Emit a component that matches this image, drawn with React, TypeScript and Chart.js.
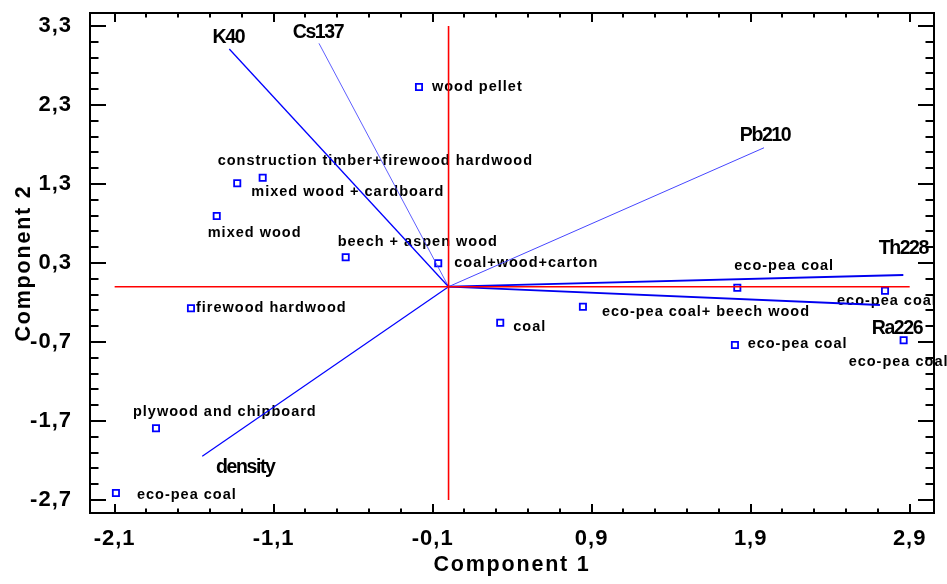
import React, { useEffect, useRef } from 'react';
import { Chart, registerables } from 'chart.js';

Chart.register(...registerables);

// ---------- data ----------
const xTicks = [-2.1, -1.1, -0.1, 0.9, 1.9, 2.9];
const yTicks = [-2.7, -1.7, -0.7, 0.3, 1.3, 2.3, 3.3];
const X_MIN = -2.255;
const X_MAX = 3.053;
const Y_MIN = -2.865;
const Y_MAX = 3.465;

const sampleNames = [
  'wood pellet',
  'construction timber+firewood hardwood',
  'mixed wood + cardboard',
  'mixed wood',
  'beech + aspen wood',
  'coal+wood+carton',
  'firewood hardwood',
  'coal',
  'eco-pea coal+ beech wood',
  'eco-pea coal',
  'eco-pea coal',
  'eco-pea coal',
  'eco-pea coal',
  'plywood and chipboard',
  'eco-pea coal',
];
const comp1 = [-0.186, -1.169, -1.329, -1.458, -0.647, -0.065, -1.62, 0.325, 0.845, 1.816, 2.745, 1.801, 2.862, -1.84, -2.092];
const comp2 = [2.528, 1.38, 1.309, 0.895, 0.372, 0.296, -0.273, -0.456, -0.253, -0.013, -0.051, -0.738, -0.678, -1.792, -2.611];
// label placement relative to marker (px)
const sampleLabelDx = [13, -45, 14, -9, -8, 16, 5, 13, 19, -3, -48, 12.7, -55, -23, 21];
const sampleLabelDy = [0, -17, 8.5, 17, -15.6, 0, 0, 4.6, 5, -21.7, 10, -1, 21.4, -16, 2];

const varNames = ['K40', 'Cs137', 'Pb210', 'Th228', 'Ra226', 'density'];
const varComp1 = [-1.379, -0.815, 1.984, 2.86, 2.713, -1.549];
const varComp2 = [3.009, 3.081, 1.759, 0.148, -0.232, -2.147];
const varLabelDx = [-1, -1, 1, 0, 17, 43];
const varLabelDy = [-6.5, -5, -7, -20.7, 29, 17];
const varColors = ['#0000ff', '#4d4dff', '#4646ff', '#0000f0', '#0000f0', '#0000ff'];
const varWidths = [1.3, 0.9, 1.0, 1.8, 1.8, 1.2];

const fmt = (v: number) => v.toFixed(1).replace('.', ',');

const SANS = '"Liberation Sans", Arial, sans-serif';

export default function App() {
  const ref = useRef<HTMLCanvasElement | null>(null);

  useEffect(() => {
    const canvas = ref.current;
    if (!canvas) return;

    const decor = {
      id: 'decor',
      beforeDraw(chart: any) {
        (chart.ctx as any).letterSpacing = '1px';
      },
      beforeDatasetsDraw(chart: any) {
        const ctx = chart.ctx as any;
        ctx.letterSpacing = '0px';
        const xs = chart.scales.x;
        const ys = chart.scales.y;
        ctx.save();
        ctx.font = `bold 14.5px ${SANS}`;
        ctx.letterSpacing = '1px';
        ctx.fillStyle = '#000';
        ctx.textAlign = 'left';
        ctx.textBaseline = 'middle';
        sampleNames.forEach((n, i) => {
          const px = xs.getPixelForValue(comp1[i]);
          const py = ys.getPixelForValue(comp2[i]);
          ctx.fillText(n, px + sampleLabelDx[i], py + sampleLabelDy[i]);
        });
        ctx.font = `bold 19.5px ${SANS}`;
        ctx.letterSpacing = '-1.4px';
        ctx.textAlign = 'center';
        ctx.textBaseline = 'alphabetic';
        varNames.forEach((n, i) => {
          const px = xs.getPixelForValue(varComp1[i]);
          const py = ys.getPixelForValue(varComp2[i]);
          ctx.fillText(n, px + varLabelDx[i], py + varLabelDy[i]);
        });
        ctx.restore();
      },
      afterDraw(chart: any) {
        const ctx = chart.ctx as any;
        const { left, right, top, bottom } = chart.chartArea;
        const xs = chart.scales.x;
        const ys = chart.scales.y;
        ctx.save();
        ctx.letterSpacing = '0px';
        ctx.strokeStyle = '#000';
        ctx.lineWidth = 2;
        ctx.strokeRect(left, top, right - left, bottom - top);
        ctx.beginPath();
        for (let k = 0; k <= 25; k++) {
          const v = xTicks[0] + k * 0.2;
          const major = k % 5 === 0;
          const len = major ? 9 : 4.5;
          const p = Math.round(xs.getPixelForValue(v));
          ctx.moveTo(p, bottom);
          ctx.lineTo(p, bottom - len);
          ctx.moveTo(p, top);
          ctx.lineTo(p, top + len);
        }
        for (let k = 0; k <= 30; k++) {
          const v = yTicks[0] + k * 0.2;
          const major = k % 5 === 0;
          const len = major ? 16 : 8.5;
          const p = Math.round(ys.getPixelForValue(v));
          ctx.moveTo(left, p);
          ctx.lineTo(left + len, p);
          ctx.moveTo(right, p);
          ctx.lineTo(right - len, p);
        }
        ctx.stroke();
        ctx.fillStyle = '#000';
        ctx.font = `bold 21.5px ${SANS}`;
        ctx.letterSpacing = '1.8px';
        ctx.textAlign = 'center';
        ctx.textBaseline = 'alphabetic';
        ctx.fillText('Component 1', (left + right) / 2, 571);
        ctx.translate(30, (top + bottom) / 2);
        ctx.rotate(-Math.PI / 2);
        ctx.fillText('Component 2', 0, 0);
        ctx.restore();
      },
    };

    const datasets: any[] = [
      {
        data: [{ x: xTicks[0], y: 0 }, { x: xTicks[xTicks.length - 1], y: 0 }],
        showLine: true,
        borderColor: '#ff0000',
        borderWidth: 1.6,
        pointRadius: 0,
      },
      {
        data: [{ x: 0, y: yTicks[0] }, { x: 0, y: yTicks[yTicks.length - 1] }],
        showLine: true,
        borderColor: '#ff0000',
        borderWidth: 1.6,
        pointRadius: 0,
      },
    ];
    varNames.forEach((n, i) => {
      datasets.push({
        label: n,
        data: [{ x: 0, y: 0 }, { x: varComp1[i], y: varComp2[i] }],
        showLine: true,
        borderColor: varColors[i],
        borderWidth: varWidths[i],
        pointRadius: 0,
      });
    });
    datasets.push({
      label: 'samples',
      data: comp1.map((x, i) => ({ x, y: comp2[i] })),
      pointStyle: 'rect',
      pointRadius: 4.4,
      pointBorderWidth: 1.8,
      borderColor: '#0000ff',
      backgroundColor: 'rgba(255,255,255,0)',
      showLine: false,
    });

    const tickFont = { family: SANS, size: 22, weight: 'bold' as const };

    const chart = new Chart(canvas, {
      type: 'scatter',
      data: { datasets },
      plugins: [decor],
      options: {
        animation: false,
        responsive: false,
        devicePixelRatio: 1,
        layout: { padding: { top: 13, right: 13, left: 0, bottom: 0 } },
        plugins: {
          legend: { display: false },
          tooltip: { enabled: false },
        },
        scales: {
          x: {
            type: 'linear',
            position: 'bottom',
            min: X_MIN,
            max: X_MAX,
            afterBuildTicks: (s: any) => {
              s.ticks = xTicks.map((v) => ({ value: v }));
            },
            afterFit: (s: any) => {
              s.height = 71;
              s.paddingLeft = 0;
              s.paddingRight = 0;
            },
            ticks: {
              callback: (v: any) => fmt(Number(v)),
              font: tickFont,
              color: '#000',
              padding: 5,
              maxRotation: 0,
              autoSkip: false,
            },
            grid: { display: false },
            border: { display: false },
          },
          y: {
            type: 'linear',
            position: 'left',
            min: Y_MIN,
            max: Y_MAX,
            afterBuildTicks: (s: any) => {
              s.ticks = yTicks.map((v) => ({ value: v }));
            },
            afterFit: (s: any) => {
              s.width = 90;
              s.paddingTop = 0;
              s.paddingBottom = 0;
            },
            ticks: {
              callback: (v: any) => fmt(Number(v)),
              font: tickFont,
              color: '#000',
              padding: 10,
              autoSkip: false,
            },
            grid: { display: false },
            border: { display: false },
          },
        },
      } as any,
    });

    return () => {
      chart.destroy();
    };
  }, []);

  return (
    <div
      style={{
        position: 'fixed',
        left: 0,
        top: 0,
        width: 947,
        height: 584,
        background: '#fff',
      }}
    >
      <canvas ref={ref} width={947} height={584} style={{ display: 'block', width: 947, height: 584 }} />
    </div>
  );
}
